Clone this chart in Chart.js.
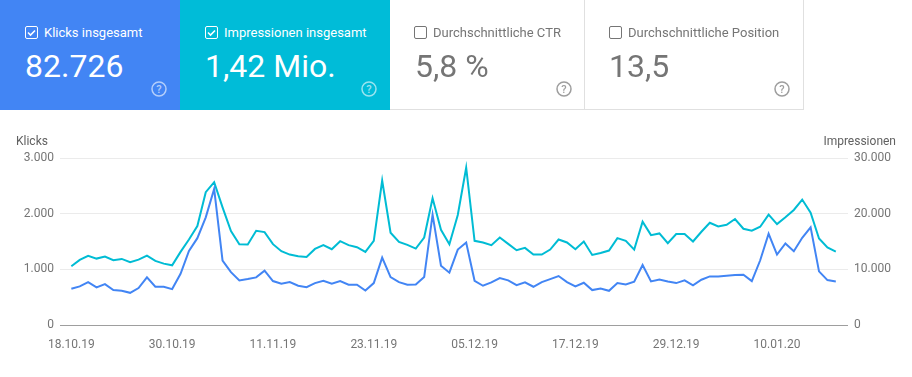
<!DOCTYPE html>
<html lang="de">
<head>
<meta charset="utf-8">
<title>Leistung</title>
<script src="https://cdn.jsdelivr.net/npm/chart.js@4"></script>
<style>
    html, body { margin: 0; padding: 0; background: #fff; }
    body { position: relative; width: 912px; height: 377px; overflow: hidden; font-family: Roboto, sans-serif; }
    #chart { position: absolute; left: 0; top: 0; }
    .card { position: absolute; top: 0; height: 110px; box-sizing: border-box; }
    .card.plain { border-bottom: 1px solid #e0e0e0; border-right: 1px solid #e0e0e0; color: #757575; }
    .card.on { color: #fff; }
    .card .label { position: absolute; top: 24px; font-size: 13px; line-height: 17px; white-space: nowrap; }
    .card .value { position: absolute; top: 46px; font-size: 32px; line-height: 40px; white-space: nowrap; }
    .card svg { position: absolute; }
    .axis-title { position: absolute; top: 133px; font-size: 12px; line-height: 16px; color: #616161; }
</style>
</head>
<body>
<canvas id="chart" width="912" height="377" style="width:912px;height:377px"></canvas>

<div class="card on" style="left:0;width:180px;background:#4285f4">
    <svg style="left:25px;top:26px" width="13" height="13"><rect x=".5" y=".5" width="12" height="12" rx="1.5" fill="none" stroke="#fff"/><path d="M3 6.5l2.5 2.5 4.5-4.5" fill="none" stroke="#fff" stroke-width="1.6"/></svg>
    <div class="label" style="left:44px">Klicks insgesamt</div>
    <div class="value" style="left:25px">82.726</div>
    <svg style="left:151px;top:81px" width="16" height="16"><circle cx="8" cy="8" r="7" fill="none" stroke="#fff" stroke-opacity=".6" stroke-width="1.5"/><text x="8" y="12" text-anchor="middle" font-size="11" font-weight="500" fill="#fff" fill-opacity=".6">?</text></svg>
</div>
<div class="card on" style="left:180px;width:210px;background:#00bcd8">
    <svg style="left:25px;top:26px" width="13" height="13"><rect x=".5" y=".5" width="12" height="12" rx="1.5" fill="none" stroke="#fff"/><path d="M3 6.5l2.5 2.5 4.5-4.5" fill="none" stroke="#fff" stroke-width="1.6"/></svg>
    <div class="label" style="left:44px">Impressionen insgesamt</div>
    <div class="value" style="left:25px">1,42 Mio.</div>
    <svg style="left:181px;top:81px" width="16" height="16"><circle cx="8" cy="8" r="7" fill="none" stroke="#fff" stroke-opacity=".6" stroke-width="1.5"/><text x="8" y="12" text-anchor="middle" font-size="11" font-weight="500" fill="#fff" fill-opacity=".6">?</text></svg>
</div>
<div class="card plain" style="left:390px;width:195px">
    <svg style="left:24px;top:26px" width="13" height="13"><rect x=".5" y=".5" width="12" height="12" rx="1.5" fill="none" stroke="#757575"/></svg>
    <div class="label" style="left:43px">Durchschnittliche CTR</div>
    <div class="value" style="left:25px">5,8 %</div>
    <svg style="left:166px;top:81px" width="16" height="16"><circle cx="8" cy="8" r="7" fill="none" stroke="#9e9e9e" stroke-width="1.5"/><text x="8" y="12" text-anchor="middle" font-size="11" font-weight="500" fill="#9e9e9e">?</text></svg>
</div>
<div class="card plain" style="left:585px;width:219px">
    <svg style="left:24px;top:26px" width="13" height="13"><rect x=".5" y=".5" width="12" height="12" rx="1.5" fill="none" stroke="#757575"/></svg>
    <div class="label" style="left:43px">Durchschnittliche Position</div>
    <div class="value" style="left:24px">13,5</div>
    <svg style="left:189px;top:81px" width="16" height="16"><circle cx="8" cy="8" r="7" fill="none" stroke="#9e9e9e" stroke-width="1.5"/><text x="8" y="12" text-anchor="middle" font-size="11" font-weight="500" fill="#9e9e9e">?</text></svg>
</div>

<div class="axis-title" style="left:16px">Klicks</div>
<div class="axis-title" style="right:16px">Impressionen</div>

<script>
// every 12th day gets a label, position in the series = index
const tickIndices = [0, 12, 24, 36, 48, 60, 72, 84];
const tickLabels = ['18.10.19', '30.10.19', '11.11.19', '23.11.19', '05.12.19', '17.12.19', '29.12.19', '10.01.20'];

const clicks = [
    650, 693, 770, 675, 735, 627, 614, 578, 663, 855, 687, 687, 645, 920, 1330, 1560,
    1934, 2445, 1157, 950, 800, 825, 855, 975, 790, 740, 770, 705, 680, 753, 795, 741,
    789, 723, 723, 620, 753, 1211, 861, 771, 723, 729, 861, 1982, 1066, 940, 1355, 1482,
    795, 705, 765, 843, 801, 717, 765, 687, 771, 825, 880, 771, 693, 759, 627, 655,
    614, 753, 729, 777, 1078, 783, 819, 783, 753, 801, 711, 813, 873, 873, 885, 897,
    903, 789, 1163, 1638, 1265, 1464, 1325, 1566, 1753, 964, 807, 783
];

const impressions = [
    10540, 11690, 12410, 11930, 12290, 11630, 11870, 11270, 11750, 12470, 11510, 11020, 10720, 13130, 15360, 17770,
    23860, 25660, 21140, 16870, 14520, 14460, 16930, 16690, 14520, 13250, 12650, 12350, 12230, 13670, 14340, 13610,
    15060, 14340, 13980, 13130, 15120, 25960, 16570, 14940, 14400, 13730, 15720, 22770, 17110, 14520, 19760, 28250,
    15120, 14820, 14340, 15720, 14580, 13430, 13860, 12650, 12650, 13550, 15360, 14820, 13610, 15000, 12590, 12950,
    13370, 15600, 15120, 13550, 18550, 16140, 16450, 14700, 16330, 16330, 15000, 16750, 18370, 17710, 18010, 19040,
    17290, 16930, 17650, 19820, 18130, 19340, 20660, 22530, 20180, 15540, 13920, 13190
];

const clickTicks = [0, 1000, 2000, 3000];
const impressionTicks = [0, 10000, 20000, 30000];

function toPoints(values) {
    return values.map((v, i) => ({ x: i, y: v }));
}

function formatTick(v) {
    return v.toLocaleString('de-DE');
}

function yAxis(position, ticks, width) {
    return {
        type: 'linear',
        position: position,
        min: ticks[0],
        max: ticks[ticks.length - 1],
        afterBuildTicks: axis => { axis.ticks = ticks.map(v => ({ value: v })); },
        afterFit: axis => { axis.width = width; },
        border: { display: false },
        grid: {
            drawOnChartArea: position === 'left',
            drawTicks: false,
            color: ctx => ctx.tick && ctx.tick.value === 0 ? '#9e9e9e' : '#ebebeb'
        },
        ticks: {
            callback: formatTick,
            color: '#757575',
            font: { family: 'Roboto', size: 12 },
            padding: 6,
            align: 'center',
            crossAlign: 'near'
        }
    };
}

new Chart(document.getElementById('chart'), {
    type: 'line',
    data: {
        datasets: [
            { label: 'Klicks', data: toPoints(clicks), yAxisID: 'y', borderColor: '#4285f4', borderWidth: 2, pointRadius: 0, tension: 0 },
            { label: 'Impressionen', data: toPoints(impressions), yAxisID: 'y1', borderColor: '#00bcd4', borderWidth: 2, pointRadius: 0, tension: 0 }
        ]
    },
    options: {
        responsive: false,
        animation: false,
        layout: { padding: { top: 158, left: 0, right: 0, bottom: 0 } },
        plugins: { legend: { display: false }, tooltip: { enabled: false } },
        scales: {
            x: {
                type: 'linear',
                min: -1.35,
                max: 92.45,
                afterBuildTicks: axis => { axis.ticks = tickIndices.map(v => ({ value: v })); },
                afterFit: axis => { axis.height = 52; },
                border: { display: false },
                grid: { display: false },
                ticks: {
                    callback: v => tickLabels[tickIndices.indexOf(v)],
                    autoSkip: false,
                    maxRotation: 0,
                    color: '#757575',
                    font: { family: 'Roboto', size: 12 },
                    padding: 5
                }
            },
            y: yAxis('left', clickTicks, 60),
            y1: yAxis('right', impressionTicks, 64)
        }
    }
});
</script>
</body>
</html>
